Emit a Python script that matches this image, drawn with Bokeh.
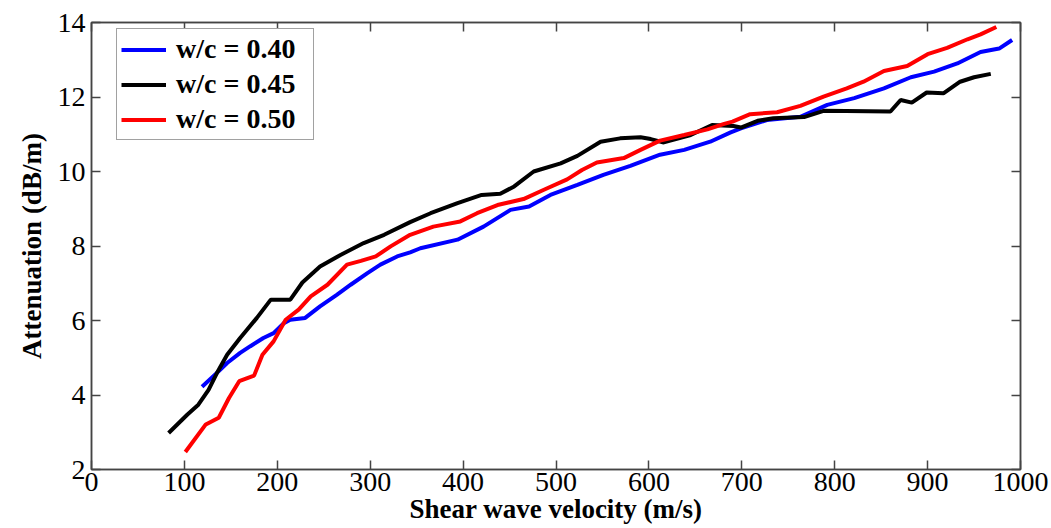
from bokeh.plotting import figure
from bokeh.models import LinearAxis, Legend, LegendItem, Range1d, FixedTicker
from bokeh.embed import file_html
from bokeh.resources import INLINE

# data
blue_x = [119, 137, 146, 160, 171, 185, 196, 207, 214, 230, 246, 264, 279, 297, 311, 329, 343, 354, 394, 422,
          451, 471, 494, 523, 551, 580, 612, 638, 666, 688, 699, 727, 763, 792, 821, 853, 882, 907, 932, 957,
          977, 991]
blue_y = [4.22, 4.64, 4.86, 5.13, 5.31, 5.53, 5.66, 5.93, 6.02, 6.07, 6.38, 6.69, 6.96, 7.27, 7.50, 7.72, 7.83,
          7.94, 8.17, 8.52, 8.97, 9.06, 9.37, 9.64, 9.91, 10.15, 10.45, 10.58, 10.80, 11.05, 11.16, 11.38, 11.47,
          11.79, 11.97, 12.23, 12.53, 12.68, 12.90, 13.21, 13.30, 13.53]

black_x = [83, 103, 115, 126, 135, 146, 160, 178, 193, 214, 227, 246, 268, 293, 315, 343, 365, 394, 420, 440,
           455, 476, 505, 523, 548, 569, 591, 602, 616, 645, 668, 691, 699, 717, 734, 767, 788, 860, 871, 883,
           899, 917, 935, 950, 968]
black_y = [2.98, 3.47, 3.74, 4.14, 4.59, 5.08, 5.53, 6.07, 6.56, 6.56, 7.02, 7.45, 7.76, 8.08, 8.30, 8.64, 8.88,
           9.15, 9.37, 9.40, 9.60, 10.00, 10.22, 10.42, 10.80, 10.89, 10.92, 10.87, 10.78, 10.98, 11.25, 11.22,
           11.18, 11.36, 11.43, 11.46, 11.63, 11.61, 11.92, 11.85, 12.12, 12.10, 12.41, 12.53, 12.62]

red_x = [101, 123, 137, 148, 159, 175, 184, 196, 209, 223, 236, 254, 275, 290, 306, 322, 343, 368, 397, 415,
         437, 465, 487, 512, 528, 544, 573, 591, 612, 638, 663, 681, 690, 709, 738, 763, 788, 813, 831, 853,
         878, 900, 921, 943, 957, 974]
red_y = [2.47, 3.21, 3.39, 3.92, 4.37, 4.52, 5.08, 5.44, 6.02, 6.29, 6.65, 6.96, 7.50, 7.60, 7.72, 7.99, 8.30,
         8.52, 8.66, 8.88, 9.10, 9.26, 9.51, 9.79, 10.04, 10.24, 10.36, 10.58, 10.83, 10.98, 11.13, 11.28, 11.34,
         11.54, 11.59, 11.76, 12.01, 12.23, 12.41, 12.70, 12.83, 13.15, 13.32, 13.55, 13.68, 13.88]

series_labels = ["w/c = 0.40", "w/c = 0.45", "w/c = 0.50"]
x_ticks = [0, 100, 200, 300, 400, 500, 600, 700, 800, 900, 1000]
y_ticks = [2, 4, 6, 8, 10, 12, 14]

FONT = "Liberation Serif"
AX = "#444444"

p = figure(width=1049, height=526, output_backend="svg", toolbar_location=None,
           x_range=Range1d(0, 1000), y_range=Range1d(2, 14),
           min_border_left=91, min_border_right=29, min_border_top=22, min_border_bottom=56)
p.xgrid.visible = False
p.ygrid.visible = False
p.outline_line_color = AX
p.outline_line_width = 1.5

r1 = p.line(blue_x, blue_y, line_color="#0000FF", line_width=4)
r2 = p.line(black_x, black_y, line_color="#000000", line_width=4)
r3 = p.line(red_x, red_y, line_color="#FF0000", line_width=4)

def style(ax, ticks, labels=True):
    ax.ticker = FixedTicker(ticks=ticks)
    ax.axis_line_color = AX
    ax.axis_line_width = 1.5
    ax.major_tick_line_color = AX
    ax.major_tick_line_width = 1.5
    ax.major_tick_in = 9
    ax.major_tick_out = 0
    ax.minor_tick_line_color = None
    if labels:
        ax.major_label_text_font = FONT
        ax.major_label_text_font_size = "28px"
        ax.major_label_text_color = "#000000"
        ax.axis_label_text_font = FONT
        ax.axis_label_text_font_size = "27px"
        ax.axis_label_text_font_style = "bold"
        ax.axis_label_text_color = "#000000"
    else:
        ax.major_label_overrides = {t: "" for t in ticks}
        ax.major_label_standoff = 0

style(p.xaxis[0], x_ticks)
style(p.yaxis[0], y_ticks)
p.xaxis[0].axis_label = "Shear wave velocity (m/s)"
p.xaxis[0].major_label_standoff = 3
p.xaxis[0].axis_label_standoff = 0
p.yaxis[0].axis_label = "Attenuation (dB/m)"
p.yaxis[0].major_label_standoff = 6
p.yaxis[0].axis_label_standoff = 8

top = LinearAxis()
style(top, x_ticks, labels=False)
p.add_layout(top, "above")
right = LinearAxis()
style(right, y_ticks, labels=False)
p.add_layout(right, "right")

legend = Legend(items=[LegendItem(label=series_labels[0], renderers=[r1]),
                       LegendItem(label=series_labels[1], renderers=[r2]),
                       LegendItem(label=series_labels[2], renderers=[r3])],
                location=(25, 329))
legend.label_text_font = FONT
legend.label_text_font_size = "28px"
legend.label_text_font_style = "bold"
legend.label_text_color = "#000000"
legend.glyph_width = 45
legend.glyph_height = 31
legend.label_height = 31
legend.label_width = 133
legend.label_standoff = 10
legend.spacing = 3
legend.padding = 4
legend.margin = 0
legend.border_line_color = AX
legend.border_line_width = 1.5
legend.background_fill_color = "white"
legend.background_fill_alpha = 1
p.add_layout(legend, "center")

open("out.html", "w").write(file_html(p, INLINE))
